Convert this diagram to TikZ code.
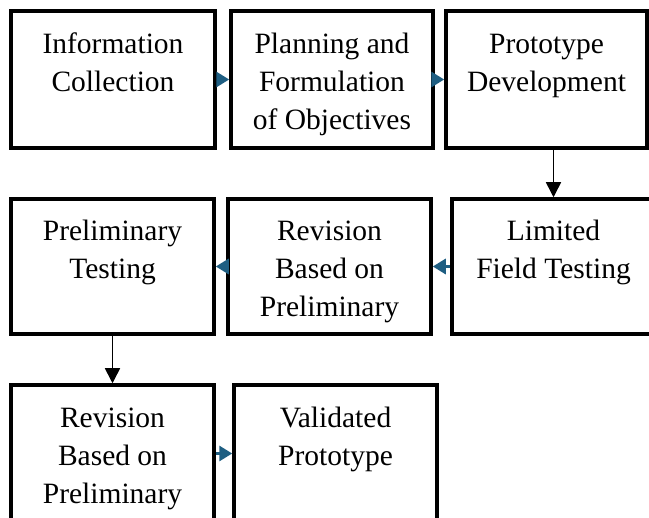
\documentclass[tikz,border=0pt]{standalone}
\usepackage{fontspec}
\setmainfont{Liberation Serif}
\usepackage{tikz}
\usetikzlibrary{arrows.meta}
\definecolor{tipblue}{RGB}{30,94,130}
\newcommand{\firstline}{\rule{0pt}{34.6pt}}

\begin{document}
\begin{tikzpicture}[x=1pt,y=-1pt,
	stage/.style={draw,line width=3.5pt,inner sep=0pt,align=center,
		font=\fontsize{29.5}{38}\selectfont},
	sidearrow/.style={tipblue,line width=3pt,-{Triangle[length=13pt,width=15pt]}},
	downarrow/.style={black,line width=1.6pt,-{Triangle[length=15pt,width=15pt]}}]
	\useasboundingbox(0,0)rectangle(649,518);
	\node[stage,minimum width=204pt,minimum height=137pt](info)at(113,79.5){\firstline Information\\\strut Collection\\\strut};
	\node[stage,minimum width=202pt,minimum height=137pt](plan)at(332,79.5){\firstline Planning and\\\strut Formulation\\\strut of Objectives};
	\node[stage,minimum width=201pt,minimum height=137pt](proto)at(546.5,79.5){\firstline Prototype\\\strut Development\\\strut};
	\node[stage,minimum width=203pt,minimum height=135pt](prelim)at(112.5,266.5){\firstline Preliminary\\\strut Testing\\\strut};
	\node[stage,minimum width=203pt,minimum height=135pt](revA)at(329.5,266.5){\firstline Revision\\\strut Based on\\\strut Preliminary};
	\node[stage,minimum width=203pt,minimum height=135pt](field)at(553.5,266.5){\firstline Limited\\\strut Field Testing\\\strut};
	\node[stage,minimum width=203pt,minimum height=137pt](revB)at(112.5,453.5){\firstline Revision\\\strut Based on\\\strut Preliminary};
	\node[stage,minimum width=203pt,minimum height=137pt](valid)at(335.5,453.5){\firstline Validated\\\strut Prototype\\\strut};
	% arrows
	\draw[sidearrow](info.east)--(plan.west);
	\draw[sidearrow](plan.east)--(proto.west);
	\draw[downarrow](field.north|-proto.south)--(field.north);
	\draw[sidearrow](field.west)--(revA.west-|revA.east);
	\draw[sidearrow](revA.west)--(prelim.east);
	\draw[downarrow](prelim.south)--(revB.north);
	\draw[sidearrow](revB.east)--(valid.west);
\end{tikzpicture}
\end{document}
